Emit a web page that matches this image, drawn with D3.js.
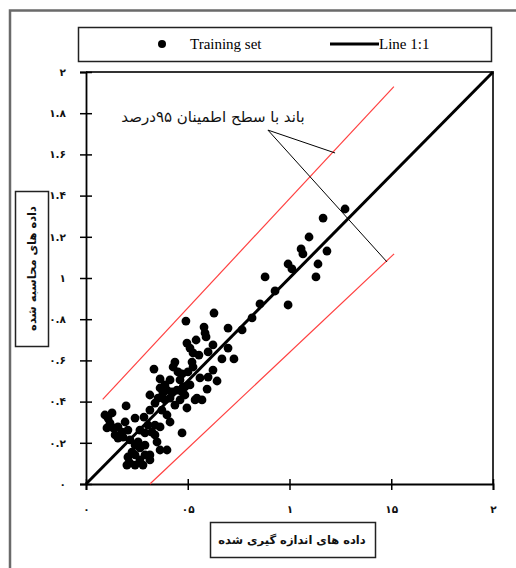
<!DOCTYPE html>
<html>
<head>
<meta charset="utf-8">
<script src="https://cdn.jsdelivr.net/npm/d3@7"></script>
<style>
  html, body { margin: 0; padding: 0; background: #fff; }
  svg { display: block; }
</style>
</head>
<body>
<svg id="chart" width="516" height="568"></svg>
<script>
// Measured vs. computed values (training set)
const measured = [
  1.273, 1.165, 1.096, 1.057, 1.066, 1.184, 0.993, 1.012, 1.140, 1.130,
  0.880, 0.929, 0.855, 0.993, 0.816, 0.629, 0.698, 0.580, 0.590, 0.491,
  0.541, 0.496, 0.511, 0.585, 0.526, 0.555, 0.698, 0.668, 0.727, 0.521,
  0.526, 0.437, 0.428, 0.334, 0.364, 0.472, 0.462, 0.624, 0.600, 0.644,
  0.595, 0.477, 0.545, 0.197, 0.128, 0.108, 0.118, 0.133, 0.157, 0.192,
  0.177, 0.143, 0.157, 0.182, 0.241, 0.285, 0.314, 0.339, 0.354, 0.378,
  0.398, 0.423, 0.447, 0.472, 0.486, 0.373, 0.398, 0.413, 0.496, 0.536,
  0.570, 0.339, 0.324, 0.339, 0.349, 0.290, 0.256, 0.241, 0.226, 0.206,
  0.216, 0.201, 0.472, 0.398, 0.265, 0.290, 0.265, 0.314, 0.241, 0.280,
  0.314, 0.364, 0.093, 0.103, 0.206, 0.364, 0.305, 0.388, 0.437, 0.364,
  0.413, 0.501, 0.560, 0.486, 0.600, 0.624, 0.767, 0.314, 0.413, 0.462,
  0.511, 0.452, 0.388, 0.265, 0.241, 0.290, 0.216
];
const computed = [
  1.335, 1.291, 1.199, 1.141, 1.117, 1.131, 1.068, 1.044, 1.068, 1.005,
  1.005, 0.937, 0.874, 0.869, 0.806, 0.830, 0.757, 0.762, 0.714, 0.791,
  0.699, 0.684, 0.660, 0.733, 0.636, 0.626, 0.660, 0.607, 0.607, 0.592,
  0.568, 0.592, 0.568, 0.558, 0.510, 0.534, 0.505, 0.553, 0.519, 0.500,
  0.461, 0.471, 0.417, 0.379, 0.345, 0.320, 0.296, 0.272, 0.277, 0.301,
  0.252, 0.238, 0.223, 0.228, 0.320, 0.325, 0.359, 0.393, 0.417, 0.442,
  0.456, 0.447, 0.456, 0.447, 0.471, 0.359, 0.335, 0.301, 0.369, 0.408,
  0.408, 0.286, 0.252, 0.238, 0.204, 0.248, 0.204, 0.189, 0.155, 0.131,
  0.102, 0.092, 0.248, 0.165, 0.175, 0.141, 0.117, 0.117, 0.092, 0.092,
  0.141, 0.165, 0.335, 0.272, 0.262, 0.277, 0.286, 0.408, 0.383, 0.466,
  0.505, 0.544, 0.515, 0.432, 0.641, 0.675, 0.748, 0.432, 0.417, 0.408,
  0.481, 0.544, 0.481, 0.262, 0.141, 0.189, 0.214
];

// 95% confidence band edges, [measured, computed] end points
const bandUpper = [[0.082, 0.411], [1.513, 1.929]];
const bandLower = [[0.314, 0.0], [1.514, 1.117]];
// 1:1 reference line
const lineOneToOne = [[0, 0], [2, 2]];

// Axis ticks and their Persian labels
const xTicks = [0, 0.5, 1, 1.5, 2];
const xTickLabels = ["۰", "۰۵", "۱", "۱۵", "۲"];
const yTicks = [0, 0.2, 0.4, 0.6, 0.8, 1, 1.2, 1.4, 1.6, 1.8, 2];
const yTickLabels = ["۰", "۰.۲", "۰.۴", "۰.۶", "۰.۸", "۱", "۱.۲", "۱.۴", "۱.۶", "۱.۸", "۲"];

// Band annotation: label anchor and the two leader-line targets
const bandNote = "باند با سطح اطمینان ۹۵درصد";
const leaderFrom = [0.894, 1.718];
const leaderTo = [[1.224, 1.607], [1.479, 1.078]];

const xTitle = "داده های اندازه گیری شده";
const yTitle = "داده های محاسبه شده";
const legendLabels = ["Training set", "Line 1:1"];

const svg = d3.select("#chart");
const x = d3.scaleLinear().domain([0, 2]).range([86, 493]);
const y = d3.scaleLinear().domain([0, 2]).range([484, 72]);

// Outer frame (open towards the right and bottom edges)
svg.append("rect")
  .attr("x", 10).attr("y", 10.5)
  .attr("width", 560).attr("height", 600)
  .attr("fill", "none").attr("stroke", "#6a6a6a").attr("stroke-width", 2.5);

// Legend
const legend = svg.append("g");
legend.append("rect")
  .attr("x", 78.5).attr("y", 27.5).attr("width", 413).attr("height", 34)
  .attr("fill", "#fff").attr("stroke", "#222").attr("stroke-width", 1.5);
legend.append("circle").attr("cx", 162).attr("cy", 44).attr("r", 4).attr("fill", "#000");
legend.append("text").attr("x", 190).attr("y", 49)
  .attr("font-family", "Liberation Serif, Times New Roman, serif").attr("font-size", 15)
  .text(legendLabels[0]);
legend.append("line").attr("x1", 330).attr("x2", 379).attr("y1", 44).attr("y2", 44)
  .attr("stroke", "#000").attr("stroke-width", 3);
legend.append("text").attr("x", 379).attr("y", 49)
  .attr("font-family", "Liberation Serif, Times New Roman, serif").attr("font-size", 15)
  .text(legendLabels[1]);

// Plot frame top/right
svg.append("path")
  .attr("d", `M${x(0)},${y(2)}H${x(2)}V${y(0)}`)
  .attr("fill", "none").attr("stroke", "#333").attr("stroke-width", 2);

// Axes
const labelFont = "DejaVu Sans, sans-serif";
const yAxis = svg.append("g").attr("transform", `translate(${x(0)},0)`)
  .call(d3.axisLeft(y).tickValues(yTicks).tickFormat((d, i) => yTickLabels[i]).tickSize(6).tickPadding(14));
yAxis.select(".domain").attr("stroke", "#000").attr("stroke-width", 1.8);
yAxis.selectAll(".tick line").attr("x1", -6).attr("x2", 6).attr("stroke-width", 1.5);
yAxis.selectAll(".tick text").attr("font-family", labelFont).attr("font-weight", "bold")
  .attr("font-size", 10.5).attr("fill", "#111");

const xAxis = svg.append("g").attr("transform", `translate(0,${y(0)})`)
  .call(d3.axisBottom(x).tickValues(xTicks).tickFormat((d, i) => xTickLabels[i]).tickSize(6).tickPadding(16));
xAxis.select(".domain").attr("stroke", "#000").attr("stroke-width", 1.8);
xAxis.selectAll(".tick line").attr("y1", -5).attr("y2", 6).attr("stroke-width", 1.5);
xAxis.selectAll(".tick text").attr("font-family", labelFont).attr("font-weight", "bold")
  .attr("font-size", 10.5).attr("fill", "#111");

// Confidence band edges
const lineGen = d3.line().x(d => x(d[0])).y(d => y(d[1]));
[bandUpper, bandLower].forEach(b => {
  svg.append("path").attr("d", lineGen(b))
    .attr("fill", "none").attr("stroke", "#ff4040").attr("stroke-width", 1.2);
});

// Points
svg.append("g").selectAll("circle")
  .data(measured.map((m, i) => [m, computed[i]]))
  .join("circle")
  .attr("cx", d => x(d[0])).attr("cy", d => y(d[1])).attr("r", 4.4)
  .attr("fill", "#000");

// 1:1 line
svg.append("path").attr("d", lineGen(lineOneToOne))
  .attr("fill", "none").attr("stroke", "#000").attr("stroke-width", 3);

// Annotation with leader lines
leaderTo.forEach(t => {
  svg.append("line")
    .attr("x1", x(leaderFrom[0])).attr("y1", y(leaderFrom[1]))
    .attr("x2", x(t[0])).attr("y2", y(t[1]))
    .attr("stroke", "#000").attr("stroke-width", 1);
});
svg.append("text").attr("x", 213).attr("y", 122)
  .attr("text-anchor", "middle").attr("direction", "rtl")
  .attr("font-family", labelFont).attr("font-size", 15).attr("fill", "#111")
  .text(bandNote);

// Axis titles in boxes
svg.append("rect").attr("x", 210.5).attr("y", 522.5).attr("width", 165).attr("height", 35)
  .attr("fill", "#fff").attr("stroke", "#222").attr("stroke-width", 1.5);
svg.append("text").attr("x", 292).attr("y", 544)
  .attr("text-anchor", "middle").attr("direction", "rtl")
  .attr("font-family", labelFont).attr("font-weight", "bold").attr("font-size", 11.5).attr("fill", "#111")
  .text(xTitle);

svg.append("rect").attr("x", 15.5).attr("y", 191.5).attr("width", 33).attr("height", 155)
  .attr("fill", "#fff").attr("stroke", "#222").attr("stroke-width", 1.5);
svg.append("text").attr("transform", "translate(35.5,268.5) rotate(-90)")
  .attr("text-anchor", "middle").attr("direction", "rtl")
  .attr("font-family", labelFont).attr("font-weight", "bold").attr("font-size", 11.5).attr("fill", "#111")
  .text(yTitle);
</script>
</body>
</html>
